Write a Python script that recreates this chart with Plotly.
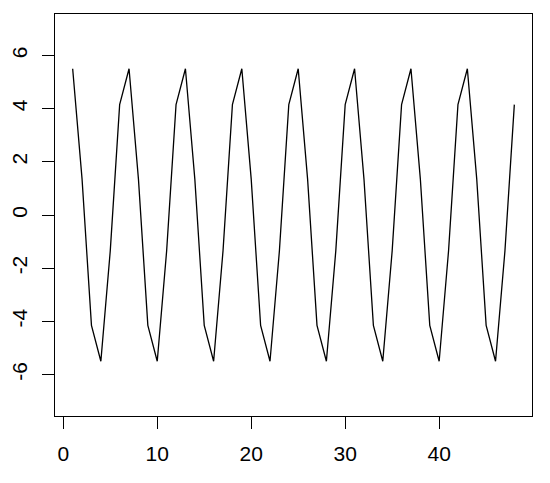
import plotly.graph_objects as go

# index 1..48, values (period-6 wave)
x_vals = list(range(1, 49))
y_vals = [
    5.5, 1.35, -4.15, -5.5, -1.35, 4.15,
    5.5, 1.35, -4.15, -5.5, -1.35, 4.15,
    5.5, 1.35, -4.15, -5.5, -1.35, 4.15,
    5.5, 1.35, -4.15, -5.5, -1.35, 4.15,
    5.5, 1.35, -4.15, -5.5, -1.35, 4.15,
    5.5, 1.35, -4.15, -5.5, -1.35, 4.15,
    5.5, 1.35, -4.15, -5.5, -1.35, 4.15,
    5.5, 1.35, -4.15, -5.5, -1.35, 4.15,
]
x_ticks = [0, 10, 20, 30, 40]
y_ticks = [-6, -4, -2, 0, 2, 4, 6]
y_tick_labels = ["-6", "-4", "-2", "0", "2", "4", "6"]

fig = go.Figure()
fig.add_trace(go.Scatter(
    x=x_vals, y=y_vals, mode="lines",
    line=dict(color="black", width=1.3),
    showlegend=False,
))

axis_common = dict(
    showgrid=False, zeroline=False, automargin=False,
    showline=True, linecolor="black", linewidth=1, mirror=True,
    ticks="outside", ticklen=12, tickcolor="black", tickwidth=1,
    tickfont=dict(family="Liberation Sans, Arial", size=21, color="black"),
)

fig.update_xaxes(
    range=[-0.88, 49.88], tickvals=x_ticks,
    ticklabelstandoff=7,
    **axis_common,
)
fig.update_yaxes(
    range=[-7.56, 7.56], tickvals=y_ticks, ticktext=y_tick_labels,
    tickangle=-90, ticklabelstandoff=7,
    **axis_common,
)

# the page body adds an 8px offset, so margins are shifted to compensate
fig.update_layout(
    width=550, height=483,
    margin=dict(l=47, r=26, t=6, b=75),
    plot_bgcolor="white", paper_bgcolor="white",
)

fig.write_html("out.html")
